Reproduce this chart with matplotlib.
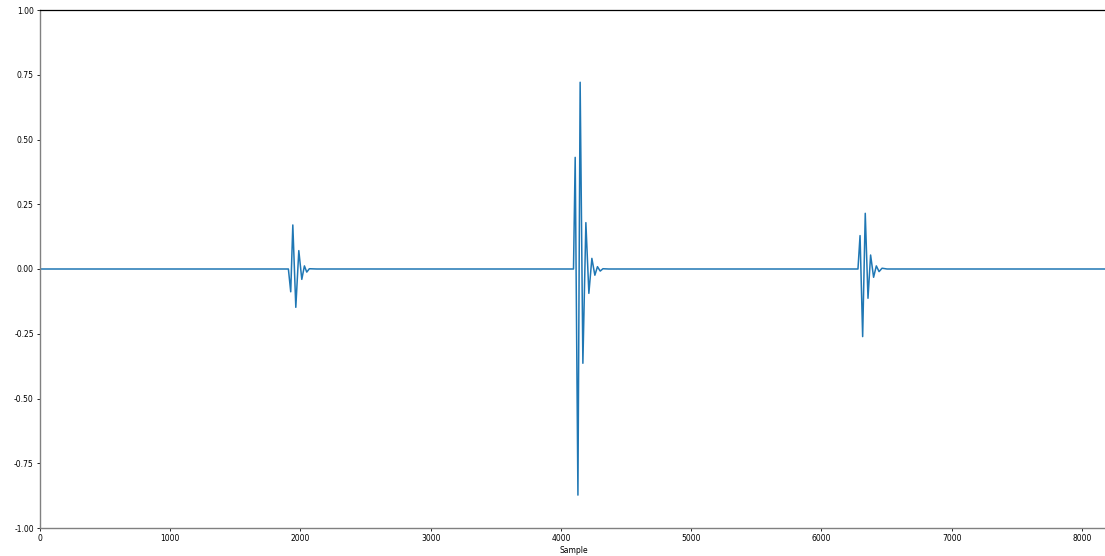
import matplotlib

matplotlib.use("Agg")
import matplotlib.pyplot as plt
from matplotlib.ticker import FormatStrFormatter

# Peak/trough samples (sample index, amplitude).
event1_samples = [1907, 1925, 1941, 1964, 1987, 2010, 2030, 2048, 2068, 2125]
event1_amps = [0.0, -0.088, 0.170, -0.148, 0.071, -0.040, 0.012, -0.012, 0.001, 0.0]

event2_samples = [4096, 4109, 4130, 4147, 4168, 4191, 4214, 4237, 4260, 4280, 4301, 4322, 4365]
event2_amps = [0.0, 0.431, -0.873, 0.721, -0.364, 0.179, -0.094, 0.041, -0.024, 0.009, -0.008, 0.001, 0.0]

event3_samples = [6280, 6296, 6316, 6336, 6357, 6377, 6400, 6421, 6442, 6465, 6503]
event3_amps = [0.0, 0.129, -0.261, 0.215, -0.113, 0.054, -0.032, 0.012, -0.010, 0.003, 0.0]

n_samples = 8192
x_ticks = [0, 1000, 2000, 3000, 4000, 5000, 6000, 7000, 8000]
y_ticks = [-1.0, -0.75, -0.5, -0.25, 0.0, 0.25, 0.5, 0.75, 1.0]

xs = [0] + event1_samples + event2_samples + event3_samples + [n_samples - 1]
ys = [0.0] + event1_amps + event2_amps + event3_amps + [0.0]

W, H = 1105, 556
fig = plt.figure(figsize=(W / 100, H / 100), dpi=100)
ax = fig.add_axes([40 / W, 28 / H, (1107 - 40) / W, (528 - 10) / H])

ax.plot(xs, ys, color="#1f77b4", lw=1.1)

ax.set_xlim(0, n_samples)
ax.set_ylim(-1, 1)
ax.set_xticks(x_ticks)
ax.set_yticks(y_ticks)
ax.yaxis.set_major_formatter(FormatStrFormatter("%.2f"))
ax.tick_params(labelsize=5.5, length=2.5, width=0.6, pad=2)
ax.set_xlabel("Sample", fontsize=5.5, labelpad=2)

for side in ("left", "bottom"):
    ax.spines[side].set_color("#808080")
    ax.spines[side].set_linewidth(1.0)
ax.spines["top"].set_color("black")
ax.spines["top"].set_linewidth(0.9)
ax.spines["right"].set_visible(False)

fig.savefig("out.png", dpi=100)
